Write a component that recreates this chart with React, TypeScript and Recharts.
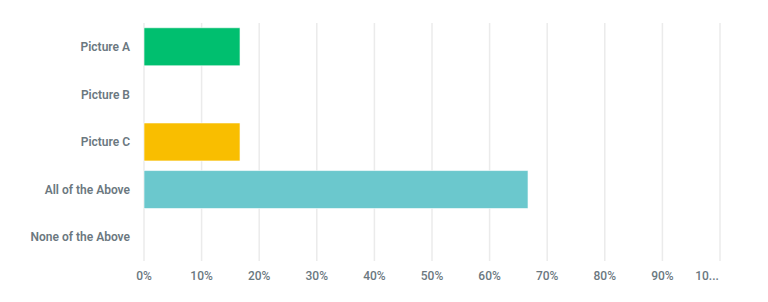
import React from "react";
import { BarChart, Bar, XAxis, YAxis, CartesianGrid, Cell } from "recharts";

const categories = ["Picture A", "Picture B", "Picture C", "All of the Above", "None of the Above"];
const percentages = [16.67, 0, 16.67, 66.67, 0];
const barColors = ["#00BF6F", "#00BF6F", "#F9BE00", "#6BC8CD", "#6BC8CD"];
const tickValues = [0, 10, 20, 30, 40, 50, 60, 70, 80, 90, 100];
const tickLabels = ["0%", "10%", "20%", "30%", "40%", "50%", "60%", "70%", "80%", "90%", "10..."];

const data = categories.map((name, i) => ({ name, value: percentages[i] }));

const FONT = "Roboto, 'Open Sans', sans-serif";
const TEXT_COLOR = "#6B787F";

const XTick = (props: any) => {
  const { x, y, payload, index } = props;
  const isLast = index === tickValues.length - 1;
  return (
    <text
      x={x}
      y={y}
      dy={14}
      dx={isLast ? -13 : 0}
      textAnchor="middle"
      fill={TEXT_COLOR}
      fontFamily={FONT}
      fontSize={12}
      fontWeight={500}
    >
      {tickLabels[tickValues.indexOf(payload.value)]}
    </text>
  );
};

export default function App() {
  return (
    <div style={{ position: "absolute", left: 0, top: 0, background: "#fff" }}>
      <BarChart
        width={768}
        height={302}
        data={data}
        layout="vertical"
        margin={{ top: 23, right: 48, bottom: 11, left: 0 }}
        barCategoryGap="10%"
      >
        <CartesianGrid horizontal={false} stroke="#EBEBEB" strokeWidth={1.5} />
        <XAxis
          type="number"
          domain={[0, 100]}
          ticks={tickValues}
          axisLine={false}
          tickLine={false}
          tickSize={0}
          tickMargin={5}
          height={30}
          tick={<XTick />}
          interval={0}
        />
        <YAxis
          type="category"
          dataKey="name"
          width={144}
          axisLine={false}
          tickLine={false}
          tickSize={0}
          tickMargin={14}
          interval={0}
          tick={{ fill: TEXT_COLOR, fontFamily: FONT, fontSize: 12, fontWeight: 600 }}
        />
        <Bar dataKey="value" isAnimationActive={false} stroke="#ffffff" strokeOpacity={0.6} strokeWidth={1}>
          {data.map((d, i) => (
            <Cell key={d.name} fill={barColors[i]} />
          ))}
        </Bar>
      </BarChart>
    </div>
  );
}
